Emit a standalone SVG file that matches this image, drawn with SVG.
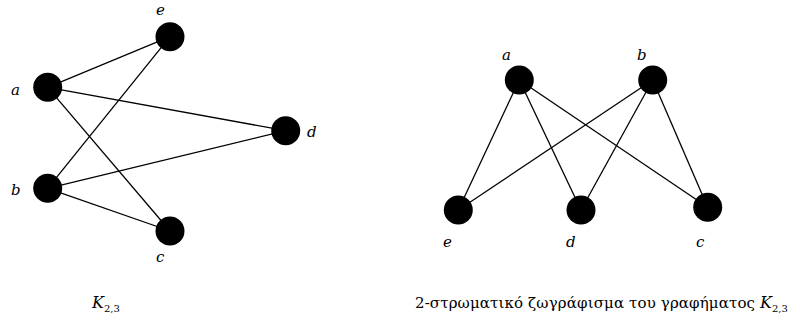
<svg xmlns="http://www.w3.org/2000/svg" width="800" height="320" viewBox="0 0 800 320">
<style>
.e{stroke:#000;stroke-width:1.3;fill:none}
.n{fill:#000}
.l{font-family:"DejaVu Serif","Times New Roman",serif;font-style:italic;font-size:15px;fill:#000}
.c{font-family:"DejaVu Serif","Times New Roman",serif;font-size:15px;fill:#000}
.ci{font-family:"DejaVu Serif","Times New Roman",serif;font-style:italic;font-size:16px;fill:#000}
.s{font-family:"DejaVu Serif","Times New Roman",serif;font-size:10px;fill:#000}
</style>
<rect width="800" height="320" fill="#fff"/>
<g id="edges">
<line class="e" x1="47.7" y1="87.3" x2="170" y2="36.7"/>
<line class="e" x1="47.7" y1="87.3" x2="285.7" y2="130.7"/>
<line class="e" x1="47.7" y1="87.3" x2="170" y2="231"/>
<line class="e" x1="47.7" y1="188.3" x2="170" y2="36.7"/>
<line class="e" x1="47.7" y1="188.3" x2="285.7" y2="130.7"/>
<line class="e" x1="47.7" y1="188.3" x2="170" y2="231"/>
<line class="e" x1="519.3" y1="80" x2="458.3" y2="210"/>
<line class="e" x1="519.3" y1="80" x2="581" y2="210"/>
<line class="e" x1="519.3" y1="80" x2="707.7" y2="207.3"/>
<line class="e" x1="652.7" y1="80" x2="458.3" y2="210"/>
<line class="e" x1="652.7" y1="80" x2="581" y2="210"/>
<line class="e" x1="652.7" y1="80" x2="707.7" y2="207.3"/>
</g>
<g id="L_a"><circle class="n" cx="47.7" cy="87.3" r="14.5"/><text class="l" x="11" y="95">a</text></g>
<g id="L_b"><circle class="n" cx="47.7" cy="188.3" r="14.5"/><text class="l" x="11" y="195">b</text></g>
<g id="L_c"><circle class="n" cx="170" cy="231" r="14.5"/><text class="l" x="156" y="262">c</text></g>
<g id="L_d"><circle class="n" cx="285.7" cy="130.7" r="14.5"/><text class="l" x="307" y="137">d</text></g>
<g id="L_e"><circle class="n" cx="170" cy="36.7" r="14.5"/><text class="l" x="156" y="15">e</text></g>
<g id="R_a"><circle class="n" cx="519.3" cy="80" r="14.5"/><text class="l" x="502" y="60">a</text></g>
<g id="R_b"><circle class="n" cx="652.7" cy="80" r="14.5"/><text class="l" x="637" y="60">b</text></g>
<g id="R_e"><circle class="n" cx="458.3" cy="210" r="14.5"/><text class="l" x="443" y="247">e</text></g>
<g id="R_d"><circle class="n" cx="581" cy="210" r="14.5"/><text class="l" x="566" y="247">d</text></g>
<g id="R_c"><circle class="n" cx="707.7" cy="207.3" r="14.5"/><text class="l" x="696" y="247">c</text></g>
<g id="cap1"><text class="ci" x="92" y="308">K</text><text class="s" x="104" y="312">2,3</text></g>
<g id="cap2"><text class="c" x="415" y="308" textLength="340" lengthAdjust="spacing">2-στρωματικό ζωγράφισμα του γραφήματος</text><text class="ci" x="760" y="308">K</text><text class="s" x="772" y="312">2,3</text></g>
</svg>
